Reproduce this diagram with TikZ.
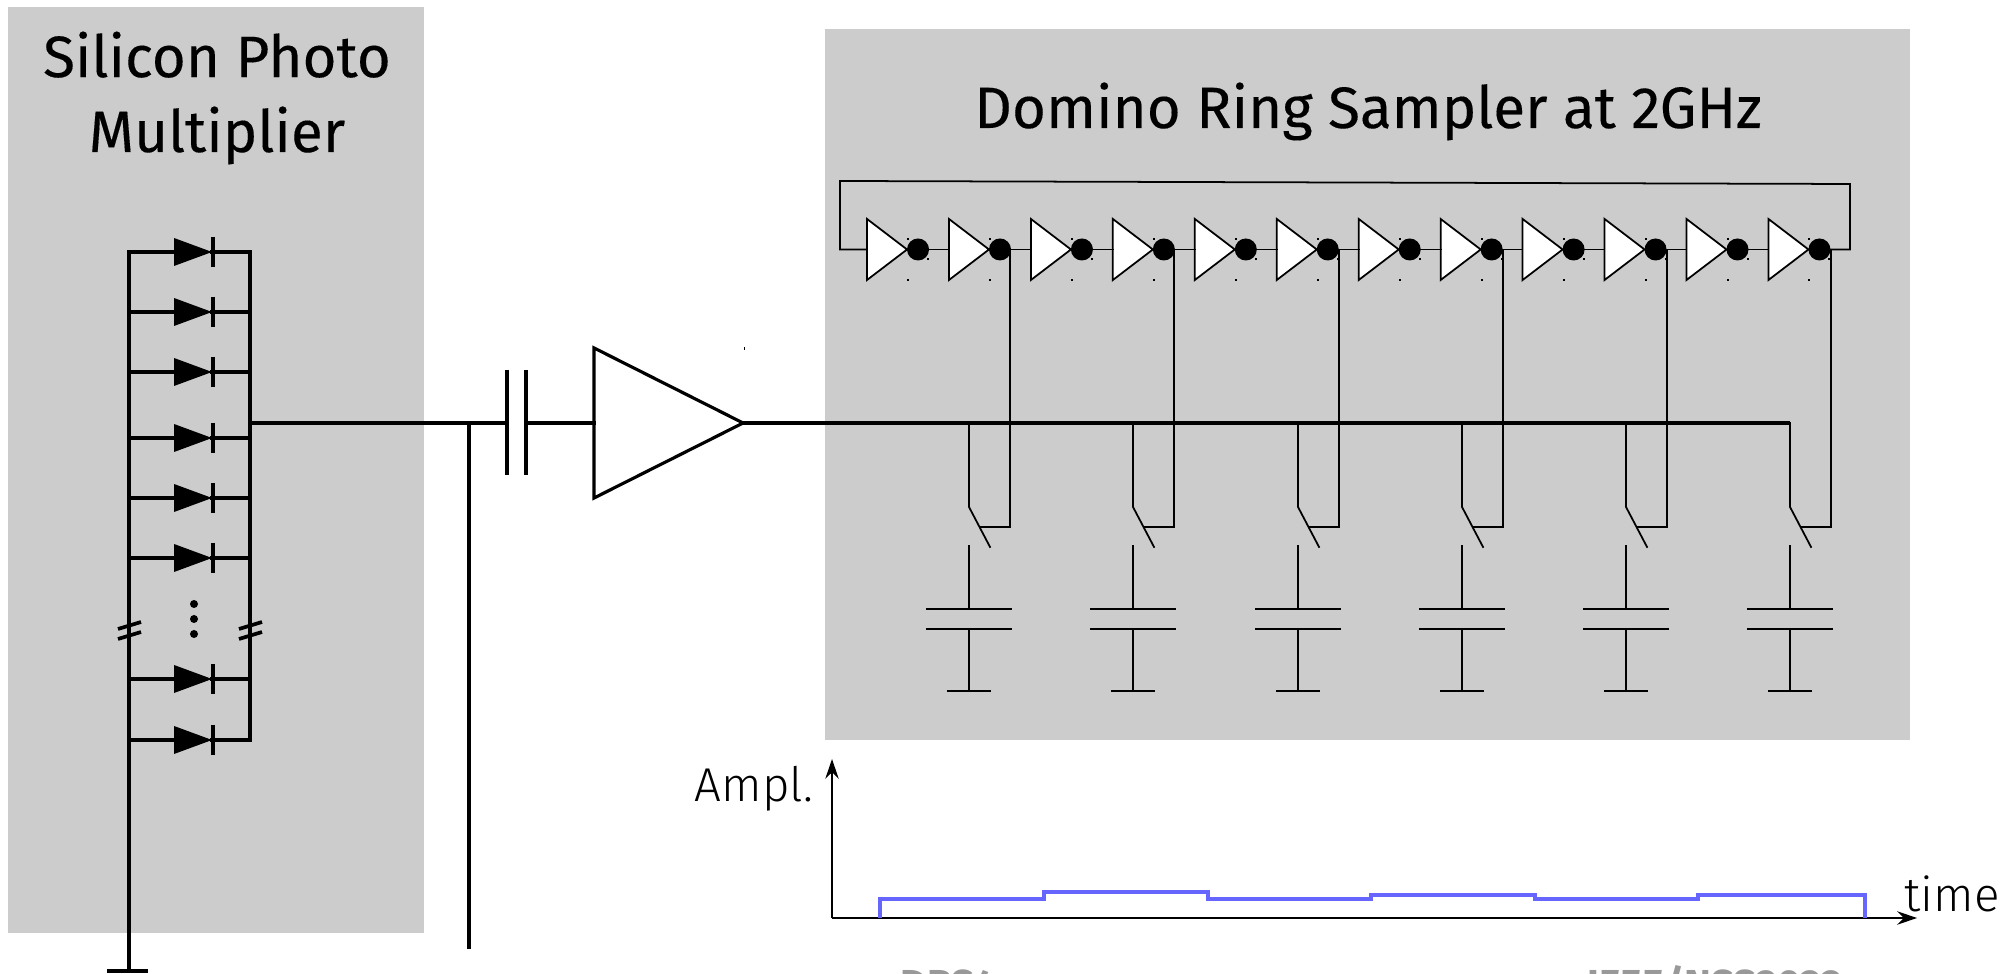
\documentclass[tikz,border=0pt]{standalone}
\usepackage{fontspec}
\setmainfont[FakeBold=0.2]{Fira Sans}
\newfontfamily\lightfont{Fira Sans Light}
\newfontfamily\boldfont{Fira Sans Bold}
\usetikzlibrary{shapes.geometric,arrows.meta}

\definecolor{panelgray}{HTML}{CCCCCC}
\definecolor{signalblue}{HTML}{6666FF}
\definecolor{footgray}{HTML}{999999}

\tikzstyle{title} = [align = center, inner sep = 0pt, font = \fontsize{16.6}{21.3}\selectfont]
\tikzstyle{axislabel} = [inner sep = 0pt, font = \lightfont\fontsize{13.5}{16}\selectfont]
\tikzstyle{footer} = [inner sep = 0pt, text = footgray, font = \boldfont\fontsize{11.5}{13}\selectfont]
\tikzstyle{inverter} = [isosceles triangle, isosceles triangle apex angle = 74.6, isosceles triangle stretches, minimum width = 0.61cm, minimum height = 0.40cm, inner sep = 0pt, outer sep = 0pt, draw = black, fill = white, line width = 0.5pt, node distance = 0.819cm]
\tikzstyle{bubble} = [circle, fill = black, minimum size = 0.22cm, inner sep = 0pt, outer sep = 0pt]
\tikzstyle{amplifier} = [isosceles triangle, isosceles triangle apex angle = 53.4, isosceles triangle stretches, minimum width = 1.50cm, minimum height = 1.49cm, inner sep = 0pt, outer sep = 0pt, draw = black, fill = white, line width = 0.9pt]
\tikzstyle{diode} = [isosceles triangle, isosceles triangle apex angle = 40, isosceles triangle stretches, minimum width = 0.28cm, minimum height = 0.38cm, inner sep = 0pt, outer sep = 0pt, fill = black]
\tikzstyle{speck} = [rectangle, fill = black, minimum width = 0.02cm, minimum height = 0.014cm, inner sep = 0pt]
\tikzstyle{wire} = [line width = 0.5pt, line cap = rect]
\tikzstyle{rail} = [line width = 1.05pt, line cap = rect]
\tikzstyle{arrow} = [->,>={Stealth[length=5.6pt,width=3.8pt]}]

\begin{document}
\begin{tikzpicture}[x=0.01cm,y=-0.01cm]
	\clip (0,0) rectangle (2007,974);
	\fill [white] (0,0) rectangle (2007,974);

	% panels
	\fill [panelgray] (8,7) rectangle (424,933);
	\fill [panelgray] (825,29) rectangle (1910,740);
	\node (sipmtitle) [title, anchor = base] at (217,152) {Silicon Photo\\Multiplier};
	\node (drstitle) [title, anchor = base] at (1368,128) {Domino Ring Sampler at 2GHz};

	% diodes
	\foreach \y in {252,312,372,438,498,558,679,740} {
		\node (diode\y) [diode, anchor = lower side] at (174,\y) {};
		\coordinate (left\y) at (129,\y);
		\coordinate (right\y) at (250,\y);
		\draw [rail] (left\y) -- (diode\y.lower side);
		\draw [rail] (diode\y.apex) -- (right\y);
		\draw [rail, line cap = butt] (213,\y-15) -- (213,\y+15);
	}
	\coordinate (gnd) at (129,971);
	\draw [rail] (left252) -- (gnd);
	\draw [rail] (right252) -- (right740);
	\draw [rail, line cap = butt] (107,971) -- (148,971);
	\draw [rail, line cap = butt] (118,629) -- (141,622);
	\draw [rail, line cap = butt] (118,639) -- (141,632);
	\draw [rail, line cap = butt] (239,629) -- (262,622);
	\draw [rail, line cap = butt] (239,639) -- (262,632);
	\foreach \y in {604,619,634} \fill (194,\y) circle (4);

	% input
	\node (amp) [amplifier, anchor = lower side] at (594,423) {};
	\coordinate (sipmout) at (250,423);
	\coordinate (tee) at (469,423);
	\coordinate (teeend) at (469,947);
	\coordinate (capin) at (507,423);
	\coordinate (capout) at (526,423);
	\draw [rail] (sipmout) -- (capin);
	\draw [rail] (capout) -- (amp.lower side);
	\draw [rail] (tee) -- (teeend);
	\draw [rail, line cap = butt] (507,370) -- (507,475);
	\draw [rail, line cap = butt] (526,370) -- (526,475);
	\node (ampspeck) [speck, minimum width = 0.008cm, minimum height = 0.03cm] at (744,349) {};
	\coordinate (busend) at (1790,423);
	\draw [rail, line cap = butt] (amp.apex) -- (busend);

	% ring of inverters
	\node (inv1) [inverter, anchor = lower side] at (867,249.5) {};
	\foreach \i/\j in {2/1,3/2,4/3,5/4,6/5,7/6,8/7,9/8,10/9,11/10,12/11}
		\node (inv\i) [inverter, right of = inv\j] {};
	\foreach \i in {1,...,12} {
		\node (bub\i) [bubble, anchor = west] at (inv\i.apex) {};
		\node (dota\i) [speck] at ([yshift=0.105cm, xshift=0.01cm]inv\i.apex) {};
		\node (dotb\i) [speck] at ([yshift=-0.095cm, xshift=0.21cm]inv\i.apex) {};
		\node (dotc\i) [speck] at ([yshift=-0.305cm, xshift=0.01cm]inv\i.apex) {};
	}
	\foreach \i/\j in {2/1,3/2,4/3,5/4,6/5,7/6,8/7,9/8,10/9,11/10,12/11}
		\draw [wire] (bub\j) -- (inv\i.lower side);
	\coordinate (ringa) at (1850,249.5);
	\coordinate (ringb) at (1850,184);
	\coordinate (ringc) at (840,181);
	\coordinate (ringd) at (840,249.5);
	\draw [wire] (bub12) -- (ringa) -- (ringb) -- (ringc) -- (ringd) -- (inv1.lower side);

	% sampling channels
	\foreach \n/\x in {1/969,2/1133,3/1298,4/1462,5/1626,6/1790} {
		\coordinate (tap\n) at (\x,423);
		\coordinate (pivot\n) at (\x,507);
		\coordinate (swend\n) at (\x+21,547);
		\coordinate (swmid\n) at (\x+11,527);
		\coordinate (drop\n) at (\x+41,249.5);
		\coordinate (dropb\n) at (\x+41,527);
		\coordinate (lead\n) at (\x,546);
		\coordinate (plate\n) at (\x,609);
		\coordinate (plateb\n) at (\x,629);
		\coordinate (gnd\n) at (\x,691);
		\draw [wire] (tap\n) -- (pivot\n) -- (swend\n);
		\draw [wire] (drop\n) -- (dropb\n) -- (swmid\n);
		\draw [wire] (lead\n) -- (plate\n);
		\draw [wire] (plateb\n) -- (gnd\n);
		\draw [wire] (\x-42,609) -- (\x+42,609);
		\draw [wire] (\x-42,629) -- (\x+42,629);
		\draw [wire] (\x-21,691) -- (\x+21,691);
	}

	% plot
	\coordinate (orig) at (832,918);
	\coordinate (ytip) at (832,759);
	\coordinate (xtip) at (1917,918);
	\draw [arrow, line width = 0.4pt] (orig) -- (ytip);
	\draw [arrow, line width = 0.55pt] (orig) -- (xtip);
	\draw [signalblue, line width = 1.1pt] (880,918) -- (880,899) -- (1044,899) -- (1044,892) -- (1208,892) -- (1208,899) -- (1371,899) -- (1371,895) -- (1535,895) -- (1535,899) -- (1698,899) -- (1698,895) -- (1865,895) -- (1865,918);
	\node (ampl) [axislabel, anchor = base west] at (694,802) {Ampl.};
	\node (timelabel) [axislabel, anchor = base west] at (1904,911) {time};

	% footer, cut off by the page edge
	\node (footleft) [footer, anchor = base west] at (900,998) {DRS4};
	\node (footright) [footer, anchor = base west] at (1587,998) {IEEE/NSS2022};
\end{tikzpicture}
\end{document}
